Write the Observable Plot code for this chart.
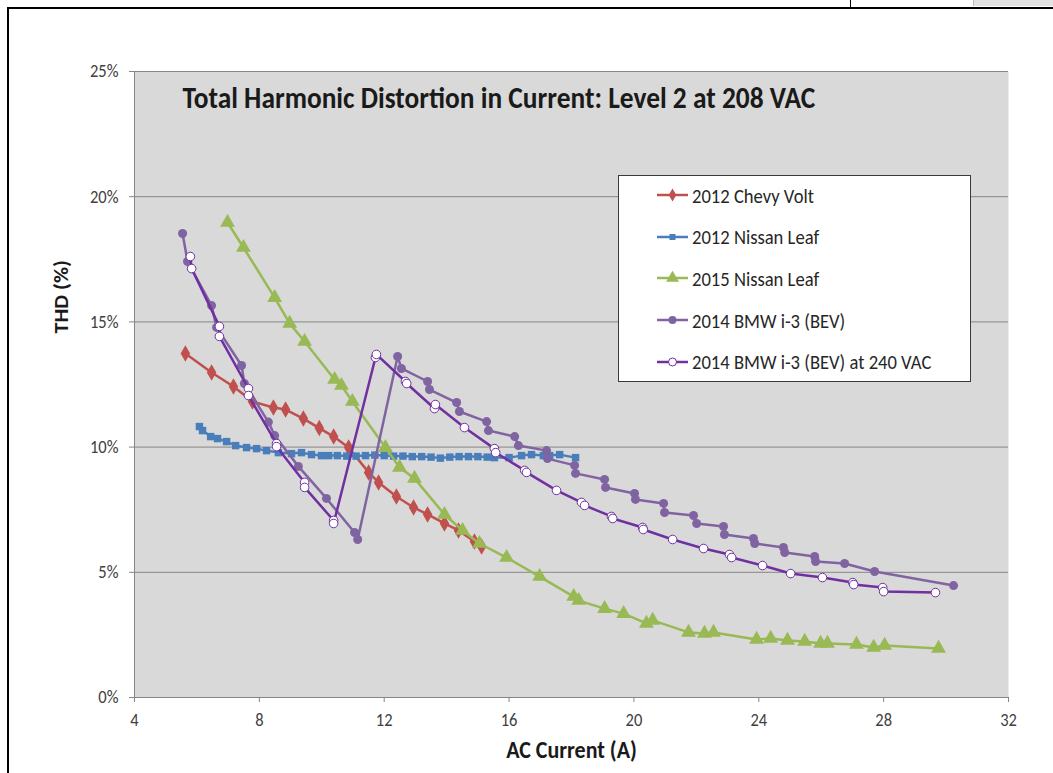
<!DOCTYPE html>
<html><head><meta charset="utf-8">
<script src="https://cdn.jsdelivr.net/npm/d3@7"></script>
<script src="https://cdn.jsdelivr.net/npm/@observablehq/plot@0.6"></script>
<style>
html,body{margin:0;padding:0;background:#fff;}
body{width:1053px;height:773px;overflow:hidden;position:relative;font-family:"Carlito","Open Sans",sans-serif;}
#chart{position:absolute;left:0;top:0;}
.bl{position:absolute;background:#000;}
#legend{position:absolute;left:618px;top:175px;width:353px;height:207px;background:#fff;border:1px solid #3a3a3a;box-sizing:border-box;}
.row{position:absolute;left:37px;height:22px;display:flex;align-items:center;font-size:18.6px;color:#262626;white-space:nowrap;}
.row svg{margin-right:3px;}
.row span{display:inline-block;transform:scaleY(1.1);}
</style></head><body>
<div id="chart"></div>
<div class="bl" style="left:7px;top:7px;width:2px;height:766px"></div>
<div class="bl" style="left:7px;top:7px;width:1046px;height:2px"></div>
<div class="bl" style="left:850px;top:0;width:1px;height:8px"></div>
<div style="position:absolute;left:973px;top:0;width:80px;height:6px;background:#e3e3e3;border-left:1px solid #bbb"></div>
<div id="legend"></div>
<script>
// ---- data ----
const seriesNames = ["2012 Chevy Volt","2012 Nissan Leaf","2015 Nissan Leaf","2014 BMW i-3 (BEV)","2014 BMW i-3 (BEV) at 240 VAC"];

const voltCurrent = [5.63,6.47,7.17,7.78,8.45,8.84,9.41,9.92,10.38,10.86,11.50,11.82,12.39,12.94,13.39,13.93,14.38,14.89,15.12];
const voltTHD     = [13.74,12.98,12.42,11.82,11.58,11.50,11.14,10.76,10.42,9.98,8.99,8.59,8.03,7.59,7.31,6.95,6.67,6.23,6.03];

const leaf12Current = [6.08,6.18,6.44,6.66,6.95,7.24,7.59,7.91,8.23,8.61,9.03,9.35,9.67,9.99,10.22,10.5,10.8,11.1,11.4,11.7,12.0,12.3,12.6,12.9,13.2,13.5,13.8,14.1,14.4,14.7,15.0,15.3,15.53,16.0,16.4,16.72,17.1,17.3,17.62,18.13];
const leaf12THD     = [10.82,10.66,10.42,10.34,10.22,10.06,9.98,9.94,9.86,9.78,9.74,9.78,9.70,9.66,9.66,9.66,9.64,9.64,9.66,9.68,9.66,9.64,9.64,9.62,9.62,9.60,9.56,9.60,9.62,9.62,9.62,9.60,9.58,9.58,9.66,9.70,9.66,9.66,9.70,9.58];

const leaf15Current = [6.98,7.49,8.49,8.97,9.45,10.41,10.63,10.98,12.04,12.49,12.97,13.93,14.51,15.05,15.92,16.98,18.07,18.23,19.06,19.67,20.40,20.60,21.75,22.26,22.55,23.93,24.38,24.92,25.47,25.98,26.20,27.13,27.68,28.03,29.76];
const leaf15THD     = [18.97,17.97,15.97,14.94,14.22,12.70,12.46,11.82,9.98,9.19,8.75,7.31,6.67,6.15,5.59,4.83,4.03,3.87,3.55,3.35,2.96,3.08,2.60,2.56,2.60,2.32,2.36,2.28,2.24,2.16,2.16,2.12,2.00,2.08,1.96];

const bmwCurrent = [5.54,5.70,6.47,6.63,7.43,7.52,8.29,8.49,9.25,10.15,11.05,11.15,12.43,12.55,13.39,13.45,14.32,14.41,15.28,15.34,16.18,16.30,17.20,17.23,18.10,18.13,19.06,19.09,20.02,20.05,20.95,20.98,21.91,22.01,22.87,22.90,23.83,23.87,24.79,24.83,25.79,25.82,26.75,27.71,30.24];
const bmwTHD     = [18.53,17.41,15.65,14.78,13.26,12.54,11.00,10.46,9.23,7.95,6.59,6.31,13.62,13.14,12.62,12.30,11.78,11.42,11.02,10.66,10.42,10.06,9.86,9.54,9.27,8.95,8.71,8.39,8.15,7.91,7.75,7.39,7.27,6.95,6.83,6.51,6.35,6.15,5.99,5.79,5.63,5.43,5.35,5.03,4.47];

const bmw240Current = [5.79,5.83,6.72,6.72,7.65,7.65,8.55,8.55,9.45,9.45,10.38,10.38,11.72,11.75,12.68,12.72,13.61,13.64,14.57,15.53,15.57,16.50,16.56,17.52,18.32,18.42,19.28,19.32,20.28,20.30,21.24,22.23,23.06,23.13,24.12,25.02,26.04,27.01,27.04,27.97,28.00,29.66];
const bmw240THD     = [17.61,17.13,14.82,14.42,12.34,12.06,10.14,10.02,8.59,8.39,7.07,6.95,13.58,13.70,12.62,12.54,11.54,11.70,10.78,9.94,9.78,9.07,8.99,8.27,7.79,7.67,7.23,7.15,6.79,6.71,6.31,5.95,5.71,5.59,5.27,4.95,4.79,4.59,4.51,4.39,4.23,4.19];

const xTicks = [4,8,12,16,20,24,28,32];
const yTicks = [0,5,10,15,20,25];
const titleText = "Total Harmonic Distortion in Current: Level 2 at 208 VAC";
const xTitle = "AC Current (A)";
const yTitle = "THD (%)";

// ---- build tables ----
const toRows = (xs, ys) => xs.map((x, i) => ({x, y: ys[i]}));
const volt = toRows(voltCurrent, voltTHD);
const leaf12 = toRows(leaf12Current, leaf12THD);
const leaf15 = toRows(leaf15Current, leaf15THD);
const bmw = toRows(bmwCurrent, bmwTHD);
const bmw240 = toRows(bmw240Current, bmw240THD);

const C = {red:"#C0504D", blue:"#4A7EBB", green:"#98B954", purple:"#8064A2", violet:"#7030A0"};

const chart = Plot.plot({
  width: 1053, height: 773,
  marginLeft: 134, marginRight: 45, marginTop: 71, marginBottom: 76,
  x: {domain: [4, 32]},
  y: {domain: [0, 25]},
  style: {fontFamily: '"Carlito","Open Sans",sans-serif', fontSize: "16.5px", color: "#404040", background: "transparent"},
  marks: [
    Plot.frame({fill: "#d9d9d9", stroke: null}),
    Plot.gridY(yTicks, {stroke: "#868686", strokeOpacity: 1, strokeWidth: 1}),
    Plot.ruleX([4], {stroke: "#868686"}),
    Plot.ruleY([0], {stroke: "#868686"}),
    Plot.axisX(xTicks, {tickSize: 5, tickPadding: 11, stroke: "#868686", fill: "#404040", label: null, tickFormat: d => d}),
    Plot.axisY(yTicks, {tickSize: 5, tickPadding: 11, stroke: "#868686", fill: "#404040", label: null, tickFormat: d => d + "%"}),
    Plot.line(volt, {x: "x", y: "y", stroke: C.red, strokeWidth: 2.5}),
    Plot.dot(volt, {x: "x", y: "y", symbol: "diamond", r: 5, fill: C.red}),
    Plot.line(leaf12, {x: "x", y: "y", stroke: C.blue, strokeWidth: 2.5}),
    Plot.dot(leaf12, {x: "x", y: "y", symbol: "square", r: 4.2, fill: C.blue}),
    Plot.line(leaf15, {x: "x", y: "y", stroke: C.green, strokeWidth: 2.5}),
    Plot.dot(leaf15, {x: "x", y: "y", symbol: "triangle", r: 5.5, fill: C.green}),
    Plot.line(bmw, {x: "x", y: "y", stroke: C.purple, strokeWidth: 2.5}),
    Plot.dot(bmw, {x: "x", y: "y", symbol: "circle", r: 4.5, fill: C.purple}),
    Plot.line(bmw240, {x: "x", y: "y", stroke: C.violet, strokeWidth: 2.5}),
    Plot.dot(bmw240, {x: "x", y: "y", symbol: "circle", r: 4.3, fill: "white", stroke: C.violet, strokeWidth: 1}),
    Plot.text([titleText], {frameAnchor: "top-left", dx: 48, dy: 27, lineAnchor: "middle", textAnchor: "start", fontSize: 27.4, fontWeight: "bold", fill: "#1a1a1a"}),
    Plot.text([xTitle], {frameAnchor: "bottom", dy: 53, lineAnchor: "middle", fontSize: 22, fontWeight: "bold", fill: "#1a1a1a"}),
    Plot.text([yTitle], {frameAnchor: "left", dx: -73, dy: -51, rotate: -90, lineAnchor: "middle", fontSize: 20, fontWeight: "bold", fill: "#1a1a1a"})
  ]
});
document.getElementById("chart").appendChild(chart);

// slight vertical stretch of glyphs, as in the reference image
const S = 1.1;
const isNum = v => v != null && /^-?[\d.]+$/.test(v.trim());
chart.querySelectorAll("text").forEach(t => {
  let tr = t.getAttribute("transform") || "";
  const ax = t.getAttribute("x"), ay = t.getAttribute("y");
  if (isNum(ax) || isNum(ay)) {
    const x = isNum(ax) ? +ax : 0, y = isNum(ay) ? +ay : 0;
    if (isNum(ax)) t.removeAttribute("x");
    if (isNum(ay)) t.removeAttribute("y");
    tr += ` translate(${x},${y})`;
  }
  t.setAttribute("transform", tr + (/rotate/.test(tr) ? ` scale(${S},1)` : ` scale(1,${S})`));
});

// ---- legend ----
const legendSpec = [
  {name: seriesNames[0], color: C.red, sym: d3.symbolDiamond, size: 50, fill: C.red},
  {name: seriesNames[1], color: C.blue, sym: d3.symbolSquare, size: 36, fill: C.blue},
  {name: seriesNames[2], color: C.green, sym: d3.symbolTriangle, size: 70, fill: C.green},
  {name: seriesNames[3], color: C.purple, sym: d3.symbolCircle, size: 50, fill: C.purple},
  {name: seriesNames[4], color: C.violet, sym: d3.symbolCircle, size: 50, fill: "#fff", stroke: C.violet}
];
const leg = d3.select("#legend");
legendSpec.forEach((s, i) => {
  const row = leg.append("div").attr("class", "row").style("top", (8 + i * 41.7) + "px");
  const svg = row.append("svg").attr("width", 33).attr("height", 14);
  svg.append("line").attr("x1", 1).attr("x2", 32).attr("y1", 7).attr("y2", 7).attr("stroke", s.color).attr("stroke-width", 2.5);
  svg.append("path").attr("d", d3.symbol(s.sym, s.size)()).attr("transform", "translate(16.5,7)")
    .attr("fill", s.fill).attr("stroke", s.stroke || "none").attr("stroke-width", 1);
  row.append("span").text(s.name);
});
</script>
</body></html>
